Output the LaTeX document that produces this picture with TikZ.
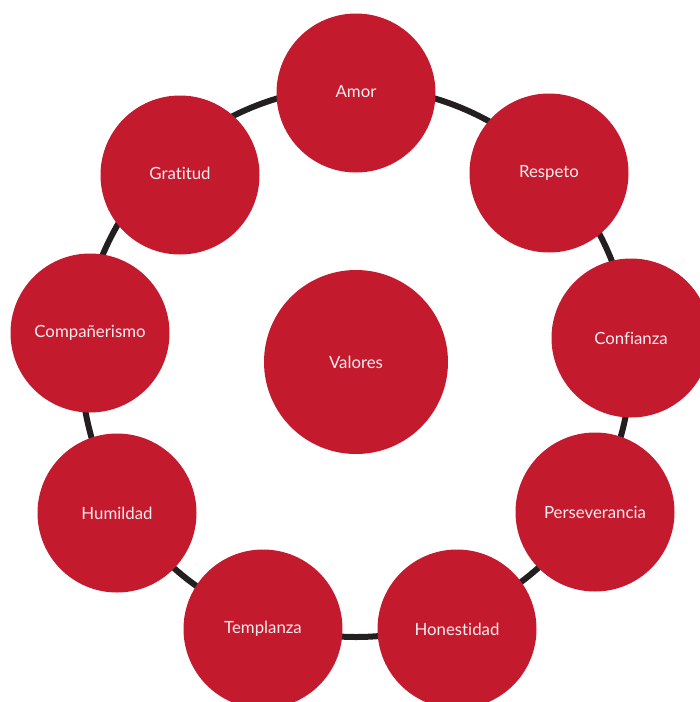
\documentclass[tikz,border=0pt]{standalone}
\usepackage{fontspec}
\setmainfont[Ligatures=NoCommon]{Lato}
\usepackage{tikz}

\begin{document}
\begin{tikzpicture}
			[x=1pt,y=-1pt,line cap=round,
			%Styles
			ring line/.style={line width=6pt,draw=ringcolor},
			value node/.style={circle,fill=valuered,inner sep=0pt,minimum size=159pt,
				text=valuetext,font=\fontsize{16.8}{19}\selectfont},
			main node/.style={value node,minimum size=184pt}
			]
			
			%Colors
			\definecolor{valuered}{RGB}{196,26,46}
			\definecolor{ringcolor}{RGB}{35,31,32}
			\definecolor{valuetext}{RGB}{250,236,238}
			
			\useasboundingbox (0,0) rectangle (700,702);
			
			%The graphic
			\node[main node] (Valores) at (356,362) {Valores};
			\draw[ring line] (Valores.center) circle (275);
			
			\node[value node] (Amor) at (356,93) {\raisebox{4pt}{Amor}};
			\node[value node] (Respeto) at (549,173) {Respeto};
			\node[value node] (Confianza) at (631,338) {\raisebox{-2pt}{Confianza}};
			\node[value node] (Perseverancia) at (595,512) {Perseverancia};
			\node[value node] (Honestidad) at (457,629) {Honestidad};
			\node[value node] (Templanza) at (263,629) {Templanza};
			\node[value node] (Humildad) at (117,513) {Humildad};
			\node[value node] (Companerismo) at (90,333) {Compañerismo};
			\node[value node] (Gratitud) at (180,175) {\raisebox{3pt}{Gratitud}};
		\end{tikzpicture}
\end{document}
